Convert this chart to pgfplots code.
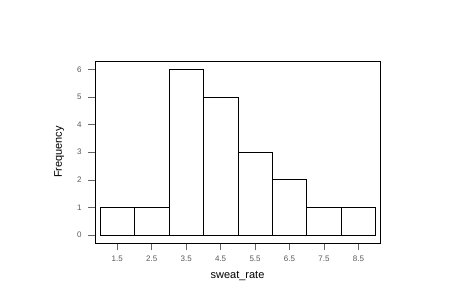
\documentclass[border=0pt]{standalone}
\usepackage{pgfplots}
\pgfplotsset{compat=1.18}
\usepackage{fontspec}
\setmainfont{Liberation Sans}
\begin{document}
\begin{tikzpicture}[x=1pt,y=1pt]
\path[fill=white] (0,0) rectangle (476,305);
\begin{axis}[
  at={(95pt,62pt)}, anchor=south west,
  width=285pt, height=182pt, scale only axis,
  xmin=0.855, xmax=9.125, ymin=-0.29, ymax=6.3,
  axis line style={black, line width=0.8pt},
  xtick={1.5,2.5,3.5,4.5,5.5,6.5,7.5,8.5},
  xticklabels={1.5,2.5,3.5,4.5,5.5,6.5,7.5,8.5},
  ytick={0,1,2,3,4,5,6},
  xtick pos=bottom, ytick pos=left,
  tick align=outside, major tick length=7pt,
  tick style={gray!80!black, line width=0.5pt},
  /pgf/number format/assume math mode=true,
  ticklabel style={font=\fontsize{8}{9}\selectfont, text=gray!70!black},
  xticklabel style={yshift=-2pt},
  yticklabel style={xshift=-3pt},
  xlabel={sweat\_rate}, ylabel={Frequency},
  label style={font=\fontsize{11}{13}\selectfont},
  xlabel style={yshift=-3pt},
  ylabel style={yshift=6pt},
]
\addplot[ybar interval, fill=white, draw=black, line width=0.6pt]
  coordinates {(1,1)(2,1)(3,6)(4,5)(5,3)(6,2)(7,1)(8,1)(9,1)};
\end{axis}
\end{tikzpicture}
\end{document}
